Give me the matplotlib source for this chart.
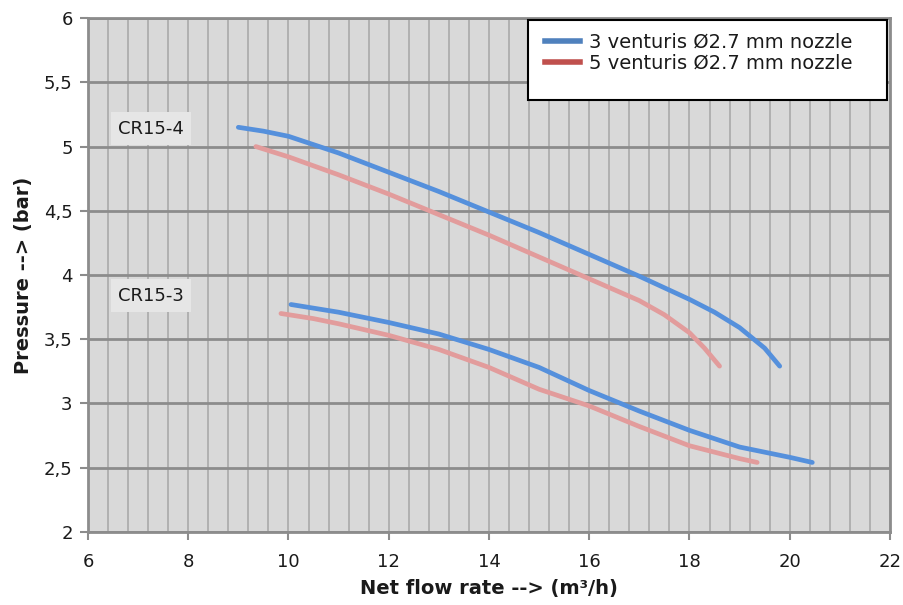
import matplotlib
matplotlib.use("Agg")
from matplotlib import pyplot as plt
from matplotlib.patches import Rectangle
from matplotlib.ticker import MultipleLocator, FuncFormatter

# CR15-4, 3 venturis
q4_3v = [9.0, 9.5, 10.0, 11.0, 12.0, 13.0, 14.0, 15.0, 16.0, 17.0, 18.0, 18.5, 19.0, 19.5, 19.8]
p4_3v = [5.15, 5.12, 5.08, 4.95, 4.80, 4.65, 4.49, 4.33, 4.16, 3.99, 3.81, 3.71, 3.59, 3.43, 3.29]
# CR15-4, 5 venturis
q4_5v = [9.35, 10.0, 11.0, 12.0, 13.0, 14.0, 15.0, 16.0, 17.0, 17.5, 18.0, 18.3, 18.6]
p4_5v = [5.0, 4.92, 4.78, 4.63, 4.47, 4.31, 4.14, 3.97, 3.80, 3.69, 3.55, 3.43, 3.29]
# CR15-3, 3 venturis
q3_3v = [10.05, 11.0, 12.0, 13.0, 14.0, 15.0, 16.0, 17.0, 18.0, 19.0, 20.0, 20.45]
p3_3v = [3.77, 3.71, 3.63, 3.54, 3.42, 3.28, 3.10, 2.94, 2.79, 2.66, 2.58, 2.54]
# CR15-3, 5 venturis
q3_5v = [9.85, 10.5, 11.0, 12.0, 13.0, 14.0, 15.0, 16.0, 17.0, 18.0, 19.0, 19.35]
p3_5v = [3.70, 3.66, 3.62, 3.53, 3.42, 3.28, 3.11, 2.98, 2.82, 2.67, 2.57, 2.54]

series_labels = ["3 venturis Ø2.7 mm nozzle", "5 venturis Ø2.7 mm nozzle"]

blue = "#5590DC"
pink = "#E29C9C"
txt = "#1A1A1A"

fig = plt.figure(figsize=(9.04, 6.05), dpi=100)
ax = fig.add_axes([0.0973, 0.121, 0.8872, 0.849])
ax.set_facecolor("#D9D9D9")

ax.plot(q4_3v, p4_3v, color=blue, lw=3.4, solid_capstyle="round", zorder=3)
ax.plot(q4_5v, p4_5v, color=pink, lw=3.4, solid_capstyle="round", zorder=3)
ax.plot(q3_3v, p3_3v, color=blue, lw=3.4, solid_capstyle="round", zorder=3)
ax.plot(q3_5v, p3_5v, color=pink, lw=3.4, solid_capstyle="round", zorder=3)

ax.set_xlim(6, 22)
ax.set_ylim(2, 6)
ax.xaxis.set_major_locator(MultipleLocator(2))
ax.xaxis.set_minor_locator(MultipleLocator(0.4))
ax.yaxis.set_major_locator(MultipleLocator(0.5))
ax.yaxis.set_major_formatter(FuncFormatter(lambda v, p: ("%g" % v).replace(".", ",")))

ax.grid(True, which="both", axis="x", color="#B0B0B0", lw=1.4, zorder=0)
ax.grid(True, which="major", axis="y", color="#8C8C8C", lw=2, zorder=1)
ax.set_axisbelow(True)

for s in ax.spines.values():
    s.set_color("#8C8C8C")
    s.set_linewidth(2)
ax.tick_params(which="major", direction="out", length=6, width=1.5, color="#8C8C8C",
               labelsize=13, labelcolor=txt, pad=5)
ax.tick_params(which="minor", length=0)
ax.tick_params(axis="x", pad=9)

ax.set_xlabel("Net flow rate --> (m³/h)", fontsize=14, fontweight="bold", color=txt, labelpad=6)
ax.set_ylabel("Pressure --> (bar)", fontsize=14, fontweight="bold", color=txt, labelpad=8)

box = dict(boxstyle="square,pad=0.4", fc="#E6E6E6", ec="none")
ax.text(6.6, 5.14, "CR15-4", fontsize=13, color=txt, va="center", bbox=box, zorder=4)
ax.text(6.6, 3.84, "CR15-3", fontsize=13, color=txt, va="center", bbox=box, zorder=4)

# legend frame drawn as a rectangle, the box is taller than the two entries
ax.add_patch(Rectangle((0.549, 0.84), 0.447, 0.156, transform=ax.transAxes,
                       fc="white", ec="black", lw=1.5, zorder=5))
h1, = ax.plot([], [], color="#4F81BD", lw=4, label=series_labels[0])
h2, = ax.plot([], [], color="#C0504D", lw=4, label=series_labels[1])
leg = ax.legend(handles=[h1, h2], loc="upper left", bbox_to_anchor=(0.562, 0.983),
                fontsize=14, frameon=False, borderpad=0.3, labelspacing=0.12,
                handlelength=1.8, handletextpad=0.5, borderaxespad=0.0)
leg.set_zorder(6)
for t in leg.get_texts():
    t.set_color(txt)

fig.savefig("out.png", dpi=100)
